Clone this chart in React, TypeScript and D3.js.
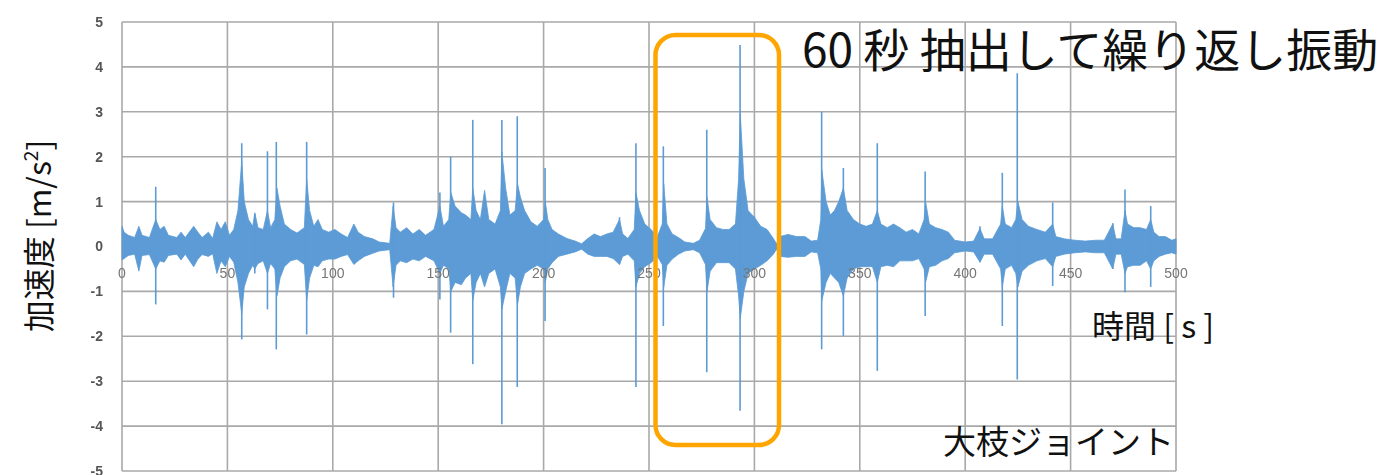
import React, { useEffect } from "react";
import * as d3 from "d3";

// Axis ticks
const xTicks = [0, 50, 100, 150, 200, 250, 300, 350, 400, 450, 500];
const yTicks = [-5, -4, -3, -2, -1, 0, 1, 2, 3, 4, 5];

// Envelope of the dense vibration band: time [s], upper and lower amplitude [m/s²]
const envT = [
  0, 1, 3, 6, 8, 9.5, 13, 16, 18, 20, 22, 26, 28, 30, 34, 36, 38, 41, 43, 45, 47, 49, 51, 53, 55,
  56.8, 58, 60, 62, 63, 64.5, 67, 69, 70.5, 72.5, 73.5, 75, 77, 80, 83, 86.5, 87.6, 89, 91, 93, 95,
  98, 101, 104, 107, 110, 112, 115, 119, 122, 127, 128.6, 130, 132, 135, 138, 141, 144, 148, 150.8,
  152.5, 155, 156, 158, 161, 163, 165.5, 166.4, 168, 170, 172, 174, 177, 179.5, 180.2, 182, 184,
  186.5, 187.6, 189, 191, 194, 197, 200, 200.8, 202, 204, 207, 211, 215, 218, 221, 224, 227, 230,
  233, 236, 237.5, 240, 243, 243.8, 245.5, 248, 251, 254, 256.3, 257, 258.5, 261, 264, 267, 271,
  274, 276.8, 277.5, 279, 282, 285, 288, 291, 292.5, 293.3, 295, 297, 300, 303, 306, 309, 310.5,
  312, 316, 320, 324, 327, 330, 331.5, 332, 334, 336, 338, 340, 342.2, 344, 347, 350, 353, 356,
  358.3, 360, 363, 366, 369, 372, 375, 378, 380.5, 381.2, 383, 386, 389, 392, 395, 400, 404, 407,
  409, 413, 416.8, 417.6, 419, 422, 424, 425, 427, 430, 434, 438, 441.5, 443, 447, 452, 457, 462,
  466, 470, 471.5, 474, 475.8, 477, 480, 483, 486, 488, 489.5, 492, 495, 498, 500,
];
const envHi = [
  0.45, 0.32, 0.25, 0.2, 0.45, 0.25, 0.2, 0.6, 0.38, 0.45, 0.25, 0.2, 0.32, 0.2, 0.45, 0.32, 0.2, 0.32,
  0.18, 0.55, 0.38, 0.55, 0.25, 0.38, 0.8, 1.9, 1.0, 0.6, 0.45, 0.75, 0.42, 0.38, 0.8, 0.42, 0.6, 1.3,
  0.9, 0.5, 0.38, 0.3, 0.42, 1.5, 0.8, 0.45, 0.6, 0.38, 0.32, 0.38, 0.28, 0.2, 0.5, 0.32, 0.22, 0.17,
  0.1, 0.07, 0.9, 0.42, 0.32, 0.42, 0.28, 0.38, 0.25, 0.38, 0.9, 0.45, 0.6, 1.2, 0.9, 0.75, 0.7, 0.6,
  1.3, 0.8, 0.6, 1.25, 0.6, 0.5, 0.8, 2.1, 1.3, 0.7, 0.8, 1.4, 1.1, 0.8, 0.55, 0.45, 0.6, 1.0, 0.6,
  0.38, 0.28, 0.18, 0.12, 0.06, 0.18, 0.28, 0.22, 0.28, 0.32, 0.6, 0.28, 0.18, 0.38, 1.2, 0.8, 0.5,
  0.38, 0.22, 0.5, 1.4, 0.5, 0.28, 0.2, 0.1, 0.07, 0.14, 0.4, 1.1, 0.6, 0.42, 0.38, 0.38, 0.5, 1.5,
  2.95, 1.5, 0.8, 0.65, 0.45, 0.38, 0.18, 0.06, 0.22, 0.27, 0.22, 0.22, 0.12, 0.14, 0.6, 1.7, 1.0, 0.7,
  0.8, 1.0, 1.3, 0.8, 0.6, 0.5, 0.45, 0.5, 0.8, 0.5, 0.42, 0.5, 0.42, 0.32, 0.38, 0.28, 0.6, 1.0, 0.5,
  0.42, 0.38, 0.32, 0.14, 0.1, 0.12, 0.4, 0.17, 0.17, 0.5, 0.9, 0.5, 0.42, 0.6, 1.0, 0.6, 0.45, 0.38,
  0.32, 0.5, 0.22, 0.17, 0.14, 0.12, 0.14, 0.14, 0.5, 0.17, 0.17, 0.8, 0.5, 0.42, 0.42, 0.38, 0.6, 0.32,
  0.22, 0.22, 0.14, 0.17,
];
const envLo = [
  -0.3, -0.27, -0.2, -0.17, -0.55, -0.2, -0.18, -0.5, -0.32, -0.35, -0.2, -0.17, -0.3, -0.17, -0.45,
  -0.28, -0.18, -0.22, -0.16, -0.6, -0.32, -0.45, -0.22, -0.35, -0.8, -1.5, -0.9, -0.6, -0.42, -0.5, -0.38,
  -0.32, -0.6, -0.38, -0.5, -1.1, -0.7, -0.45, -0.32, -0.28, -0.4, -1.2, -0.7, -0.42, -0.45, -0.32, -0.28,
  -0.28, -0.22, -0.18, -0.4, -0.32, -0.22, -0.15, -0.1, -0.07, -0.9, -0.42, -0.32, -0.36, -0.28, -0.32,
  -0.22, -0.32, -0.6, -0.42, -0.5, -1.0, -0.8, -0.85, -0.7, -0.6, -1.2, -0.8, -0.6, -0.9, -0.6, -0.5,
  -0.9, -1.4, -1.0, -0.6, -0.7, -1.3, -0.9, -0.6, -0.5, -0.42, -0.5, -0.8, -0.5, -0.36, -0.22, -0.17,
  -0.12, -0.06, -0.17, -0.22, -0.22, -0.22, -0.27, -0.4, -0.22, -0.17, -0.32, -0.9, -0.6, -0.45, -0.36,
  -0.22, -0.4, -0.9, -0.42, -0.28, -0.17, -0.1, -0.07, -0.14, -0.4, -1.0, -0.55, -0.36, -0.36, -0.36,
  -0.5, -1.1, -1.6, -1.0, -0.6, -0.5, -0.42, -0.32, -0.17, -0.06, -0.22, -0.24, -0.22, -0.22, -0.12, -0.14,
  -0.5, -1.2, -0.8, -0.6, -0.7, -0.8, -1.1, -0.7, -0.5, -0.45, -0.45, -0.45, -0.8, -0.45, -0.42, -0.45,
  -0.32, -0.32, -0.32, -0.27, -0.5, -0.8, -0.45, -0.42, -0.32, -0.27, -0.14, -0.1, -0.12, -0.35, -0.17,
  -0.17, -0.5, -0.9, -0.5, -0.42, -0.6, -0.9, -0.55, -0.42, -0.32, -0.27, -0.45, -0.22, -0.17, -0.14, -0.12,
  -0.14, -0.14, -0.5, -0.17, -0.17, -0.6, -0.45, -0.42, -0.42, -0.32, -0.5, -0.32, -0.22, -0.17, -0.14,
  -0.17,
];

// Impact spikes: time [s], peak and trough [m/s²]
const spikeT = [
  16, 56.8, 63, 69, 73.2, 87.6, 128.8, 150.8, 155.9, 166.4, 180.2, 187.5, 200.7, 236, 243.8, 256.8,
  277.4, 293.2, 300, 331.9, 342.2, 358.3, 381, 407, 417.6, 424.7, 441.5, 470, 475.8, 488,
];
const spikeMax = [
  1.33, 2.3, 0.73, 2.12, 2.33, 2.33, 0.98, 1.2, 2.0, 2.82, 2.82, 2.9, 1.75, 0.65, 2.3, 2.23, 2.6,
  4.49, 0.67, 3.0, 1.75, 2.3, 1.67, 0.45, 1.64, 3.86, 0.98, 0.52, 1.27, 0.9,
];
const spikeMin = [
  -1.29, -2.07, -0.6, -1.4, -2.29, -1.96, -1.14, -1.18, -1.92, -2.62, -3.96, -3.13, -1.66, -0.4,
  -3.13, -1.77, -2.8, -3.66, -0.5, -2.29, -1.99, -2.77, -1.55, -0.35, -1.77, -2.96, -0.88, -0.5,
  -1.02, -0.9,
];

const W = 1396;
const H = 475;
const BLUE = "#5b9bd5";

export default function App() {
  useEffect(() => {
    document.body.style.margin = "0";
  }, []);

  const x = d3.scaleLinear().domain([0, 500]).range([122, 1176]);
  const y = d3.scaleLinear().domain([-5, 5]).range([471, 22]);

  const env = envT.map((t, i) => ({ t, hi: envHi[i], lo: envLo[i] }));
  const band = d3
    .area<{ t: number; hi: number; lo: number }>()
    .x((d) => x(d.t))
    .y0((d) => y(d.lo))
    .y1((d) => y(d.hi))
    .curve(d3.curveLinear);

  const jp = "'Noto Sans CJK JP', 'Noto Sans', sans-serif";
  const num = "'Liberation Sans', 'DejaVu Sans', sans-serif";

  return (
    <svg width={W} height={H} style={{ display: "block", background: "#fff" }}>
      <defs>
        <filter id="soft" x="-5%" y="-5%" width="110%" height="110%">
          <feGaussianBlur stdDeviation="0.6" />
        </filter>
      </defs>
      <rect width={W} height={H} fill="#fff" />
      <g filter="url(#soft)">
        {/* gridlines */}
        {yTicks.map((v) => (
          <line key={"h" + v} x1={x(0)} x2={x(500)} y1={y(v)} y2={y(v)} stroke="#a9a9a9" strokeWidth={1.6} />
        ))}
        {xTicks.map((v) => (
          <line key={"v" + v} x1={x(v)} x2={x(v)} y1={y(5)} y2={y(-5)} stroke="#a9a9a9" strokeWidth={1.6} />
        ))}
        {/* y tick labels */}
        {yTicks.map((v) => (
          <text
            key={"yl" + v}
            x={103}
            y={y(v)}
            dy="0.35em"
            textAnchor="end"
            fontFamily={num}
            fontSize={14}
            fontWeight="bold"
            fill="#555"
          >
            {v}
          </text>
        ))}
        {/* vibration band */}
        <path d={band(env) ?? ""} fill={BLUE} stroke={BLUE} strokeWidth={0.8} />
        {spikeT.map((t, i) => (
          <line
            key={"s" + i}
            x1={x(t)}
            x2={x(t)}
            y1={y(spikeMax[i])}
            y2={y(spikeMin[i])}
            stroke={BLUE}
            strokeWidth={1.6}
          />
        ))}
        {/* x tick labels on the zero line */}
        {xTicks.map((v) => (
          <text
            key={"xl" + v}
            x={x(v)}
            y={y(0) + 31}
            textAnchor="middle"
            fontFamily={num}
            fontSize={14}
            fill="#767676"
          >
            {v}
          </text>
        ))}
      </g>

      {/* axis titles */}
      <text
        transform={`translate(51, 236) rotate(-90)`}
        textAnchor="middle"
        fontFamily={jp}
        fontSize={32}
        fill="#111"
      >
        加速度 [m/s
        <tspan fontSize={19} dy={-13}>
          2
        </tspan>
        <tspan dy={13}>]</tspan>
      </text>
      <text x={1092} y={338} fontFamily={jp} fontSize={32} fill="#111">
        時間 [ s ]
      </text>
      <text x={943} y={454} fontFamily={jp} fontSize={33} fill="#111">
        大枝ジョイント
      </text>

      {/* extracted 60 s window */}
      <rect x={655.5} y={35} width={123.5} height={410} rx={20} ry={20} fill="none" stroke="#ffa500" strokeWidth={4.5} />
      <text x={802} y={67} fontFamily={jp} fontSize={46} fill="#111">
        60 秒 抽出して繰り返し振動
      </text>
    </svg>
  );
}
